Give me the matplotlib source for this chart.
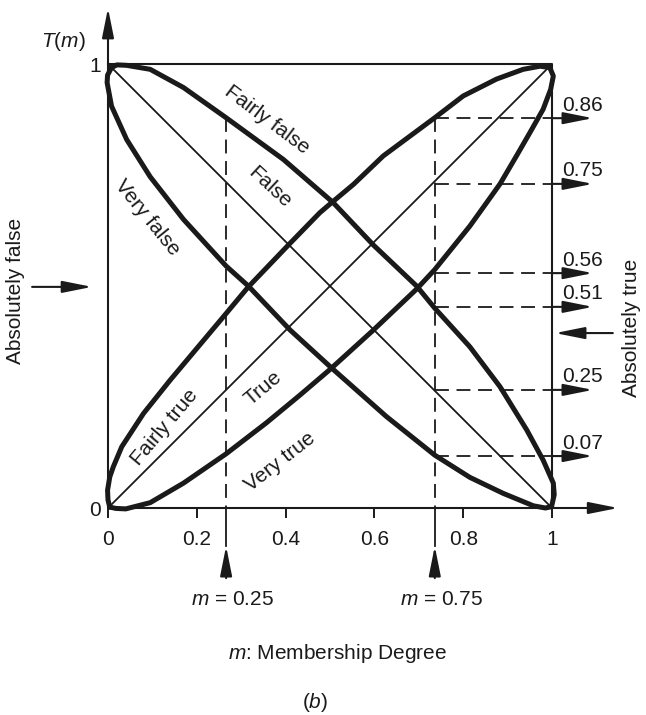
import matplotlib
matplotlib.use('Agg')
import matplotlib.pyplot as plt

plt.rcParams['font.family'] = ['Liberation Sans', 'DejaVu Sans']
plt.rcParams['mathtext.fontset'] = 'custom'
plt.rcParams['mathtext.rm'] = 'Liberation Sans'
plt.rcParams['mathtext.it'] = 'Liberation Sans:italic'
plt.rcParams['lines.scale_dashes'] = False

# hedge curves (m, T(m))
fairly_true_x = [0.004, 0.000, -0.001, 0.004, 0.012, 0.031, 0.080, 0.140, 0.203, 0.266, 0.316,
                 0.406, 0.477, 0.504, 0.553, 0.620, 0.736, 0.800, 0.875, 0.935, 0.973, 0.995]
fairly_true_y = [0.002, 0.018, 0.040, 0.070, 0.093, 0.138, 0.213, 0.288, 0.363, 0.438, 0.498,
                 0.592, 0.665, 0.688, 0.729, 0.793, 0.879, 0.928, 0.966, 0.988, 0.995, 0.992]

very_true_x = [0.004, 0.018, 0.040, 0.095, 0.170, 0.266, 0.357, 0.432, 0.500, 0.598, 0.695,
               0.736, 0.815, 0.853, 0.883, 0.920, 0.950, 0.980, 0.997, 1.003, 0.995]
very_true_y = [0.002, -0.001, -0.002, 0.012, 0.056, 0.122, 0.192, 0.254, 0.312, 0.401, 0.493,
               0.537, 0.635, 0.688, 0.730, 0.793, 0.845, 0.898, 0.943, 0.973, 0.992]

fairly_false_x = [0.008, 0.020, 0.042, 0.095, 0.170, 0.266, 0.395, 0.507, 0.598, 0.695, 0.736,
                  0.815, 0.883, 0.943, 0.980, 1.003, 1.005, 0.999]
fairly_false_y = [0.992, 0.998, 0.997, 0.988, 0.947, 0.879, 0.785, 0.688, 0.592, 0.500, 0.450,
                  0.363, 0.273, 0.176, 0.108, 0.056, 0.030, 0.003]

very_false_x = [0.008, -0.001, -0.002, 0.008, 0.042, 0.095, 0.170, 0.266, 0.316, 0.410, 0.504,
                0.627, 0.736, 0.815, 0.890, 0.958, 0.985, 0.999]
very_false_y = [0.992, 0.975, 0.958, 0.905, 0.830, 0.746, 0.650, 0.545, 0.500, 0.401, 0.315,
                0.206, 0.119, 0.069, 0.033, 0.005, 0.000, 0.003]

# marked membership degrees (drawn position, label)
m_pos = [0.266, 0.736]
m_labels = ['0.25', '0.75']
m_top = [0.879, 0.879]

# truth values read at m = 0.75
hedge_vals = [0.878, 0.730, 0.529, 0.453, 0.266, 0.117]
hedge_labels = ['0.86', '0.75', '0.56', '0.51', '0.25', '0.07']

tick_vals = [0, 0.2, 0.4, 0.6, 0.8, 1]
tick_labels = ['0', '0.2', '0.4', '0.6', '0.8', '1']

k = '#1a1a1a'
fs = 15

fig = plt.figure(figsize=(6.46, 7.15), dpi=100)
ax = fig.add_axes([108 / 646, 1 - 508 / 715, 444 / 646, 444 / 715])
ax.set_xlim(0, 1)
ax.set_ylim(0, 1)
for s in ax.spines.values():
    s.set_visible(False)

ax.set_xticks(tick_vals, tick_labels)
ax.set_yticks([0, 1], ['0', '1'])
ax.tick_params(axis='x', direction='out', length=7.5, width=1.4, color=k,
               labelsize=fs, pad=8.5, labelcolor=k)
ax.tick_params(axis='y', length=0, labelsize=fs, pad=5, labelcolor=k)

arrow = dict(arrowstyle='-|>,head_length=1.0,head_width=0.2', mutation_scale=18,
             lw=1.5, color=k, shrinkA=0, shrinkB=0)

# axes with arrows
ax.annotate('', xy=(1.149, 0), xytext=(0, 0), arrowprops=arrow, annotation_clip=False)
ax.annotate('', xy=(0, 1.126), xytext=(0, 0), arrowprops=arrow, annotation_clip=False)

# box and straight lines
ax.plot([0, 1, 1], [1, 1, 0], color=k, lw=1.5, clip_on=False)
ax.plot([0, 1], [0, 1], color=k, lw=1.3)
ax.plot([0, 1], [1, 0], color=k, lw=1.3)

# hedge curves
for xs, ys in [(fairly_true_x, fairly_true_y), (very_true_x, very_true_y),
               (fairly_false_x, fairly_false_y), (very_false_x, very_false_y)]:
    ax.plot(xs, ys, color=k, lw=3.6, solid_joinstyle='round', solid_capstyle='round',
            clip_on=False)

# dashed guides
for xm, top, lab in zip(m_pos, m_top, m_labels):
    ax.plot([xm, xm], [top, 0], color=k, lw=1.3, dashes=(10, 5.5))
    ax.plot([xm, xm], [0, -0.086], color=k, lw=1.3, clip_on=False)
    ax.annotate('', xy=(xm, -0.086), xytext=(xm, -0.158), arrowprops=arrow,
                annotation_clip=False)
    ax.text(xm + 0.014, -0.207, r'$m$ = ' + lab, fontsize=fs, color=k,
            ha='center', va='center')

for yv, lab in zip(hedge_vals, hedge_labels):
    ax.plot([m_pos[1], 1], [yv, yv], color=k, lw=1.3, dashes=(10, 5.5))
    ax.annotate('', xy=(1.092, yv), xytext=(1, yv), arrowprops=arrow, annotation_clip=False)
    ax.text(1.022, yv + 0.017, lab, fontsize=fs, color=k, ha='left', va='baseline')

# curve names
names = [('Fairly false', 0.358, 0.874, -37), ('False', 0.365, 0.723, -43),
         ('Very false', 0.088, 0.655, -51), ('Fairly true', 0.128, 0.182, 50),
         ('True', 0.349, 0.270, 40), ('Very true', 0.387, 0.104, 38)]
for txt, tx, ty, rot in names:
    ax.text(tx, ty, txt, fontsize=fs, color=k, rotation=rot, rotation_mode='anchor',
            ha='center', va='center')

# side annotations
ax.text(-0.209, 0.49, 'Absolutely false', fontsize=fs, color=k, rotation=90,
        ha='center', va='center')
ax.annotate('', xy=(-0.036, 0.498), xytext=(-0.171, 0.498), arrowprops=arrow,
            annotation_clip=False)
ax.text(1.180, 0.405, 'Absolutely true', fontsize=fs, color=k, rotation=90,
        ha='center', va='center')
ax.annotate('', xy=(1.007, 0.394), xytext=(1.137, 0.394), arrowprops=arrow,
            annotation_clip=False)

ax.text(-0.101, 1.050, r'$T$($m$)', fontsize=fs, color=k, ha='center', va='center')
ax.text(0.516, -0.327, r'$m$: Membership Degree', fontsize=fs, color=k,
        ha='center', va='center')
ax.text(0.466, -0.439, r'($b$)', fontsize=fs, color=k, ha='center', va='center')

fig.savefig('out.png', dpi=100)
